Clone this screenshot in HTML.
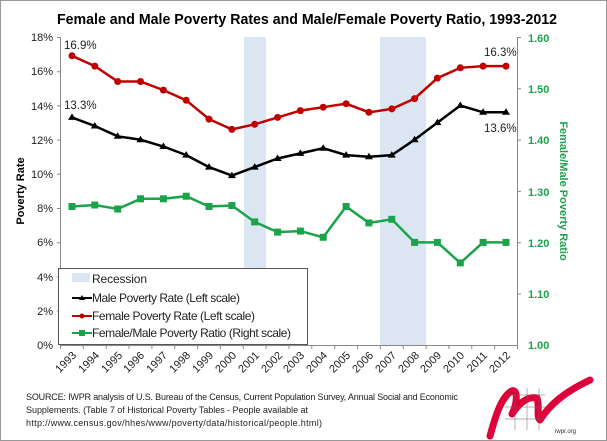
<!DOCTYPE html>
<html><head><style>
html,body{margin:0;padding:0;background:#fff;}
svg{display:block;font-family:"Liberation Sans",sans-serif;}
</style></head><body>
<svg width="607" height="441" viewBox="0 0 607 441" xmlns="http://www.w3.org/2000/svg">
<rect x="0.5" y="0.5" width="606" height="440" fill="#fff" stroke="#999"/>
<text x="307" y="24" text-anchor="middle" font-size="14.5" font-weight="bold" textLength="500" lengthAdjust="spacingAndGlyphs">Female and Male Poverty Rates and Male/Female Poverty Ratio, 1993-2012</text>
<rect x="244" y="37" width="22" height="308" fill="#dce6f2"/>
<rect x="380" y="37" width="46" height="308" fill="#dce6f2"/>
<g stroke="#888" stroke-width="1" fill="none">
<line x1="60.5" y1="37" x2="60.5" y2="345"/>
<line x1="517.5" y1="37" x2="517.5" y2="345"/>
<line x1="60" y1="345.5" x2="518" y2="345.5"/>
<path d="M57 37.5H61M57 71.7H61M57 105.9H61M57 140.1H61M57 174.3H61M57 208.5H61M57 242.7H61M57 276.9H61M57 311.1H61"/>
<path d="M517 37.5H521M517 88.8H521M517 140.1H521M517 191.4H521M517 242.7H521M517 294H521"/>
<path d="M60.5 345V349M83.3 345V349M106.2 345V349M129 345V349M151.9 345V349M174.7 345V349M197.6 345V349M220.4 345V349M243.3 345V349M266.1 345V349M289 345V349M311.8 345V349M334.7 345V349M357.5 345V349M380.4 345V349M403.2 345V349M426.1 345V349M448.9 345V349M471.8 345V349M494.6 345V349M517.5 345V349"/>
</g>
<g font-size="11" fill="#222" text-anchor="end">
<text x="53" y="41">18%</text><text x="53" y="75">16%</text><text x="53" y="110">14%</text><text x="53" y="144">12%</text><text x="53" y="178">10%</text><text x="53" y="212">8%</text><text x="53" y="246">6%</text><text x="53" y="281">4%</text><text x="53" y="315">2%</text><text x="53" y="349">0%</text>
</g>
<g font-size="11" fill="#1aa34a" font-weight="bold">
<text x="528" y="42">1.60</text><text x="528" y="93">1.50</text><text x="528" y="144">1.40</text><text x="528" y="196">1.30</text><text x="528" y="247">1.20</text><text x="528" y="298">1.10</text><text x="528" y="349">1.00</text>
</g>
<text transform="translate(24,191) rotate(-90)" text-anchor="middle" font-size="11" font-weight="bold">Poverty Rate</text>
<text transform="translate(560,191) rotate(90)" text-anchor="middle" font-size="11" font-weight="bold" fill="#1aa34a">Female/Male Poverty Ratio</text>
<g font-size="11" fill="#222" text-anchor="end">
<text transform="translate(77,356) rotate(-45)">1993</text>
<text transform="translate(100,356) rotate(-45)">1994</text>
<text transform="translate(123,356) rotate(-45)">1995</text>
<text transform="translate(145,356) rotate(-45)">1996</text>
<text transform="translate(168,356) rotate(-45)">1997</text>
<text transform="translate(191,356) rotate(-45)">1998</text>
<text transform="translate(214,356) rotate(-45)">1999</text>
<text transform="translate(237,356) rotate(-45)">2000</text>
<text transform="translate(260,356) rotate(-45)">2001</text>
<text transform="translate(283,356) rotate(-45)">2002</text>
<text transform="translate(305,356) rotate(-45)">2003</text>
<text transform="translate(328,356) rotate(-45)">2004</text>
<text transform="translate(351,356) rotate(-45)">2005</text>
<text transform="translate(374,356) rotate(-45)">2006</text>
<text transform="translate(397,356) rotate(-45)">2007</text>
<text transform="translate(420,356) rotate(-45)">2008</text>
<text transform="translate(442,356) rotate(-45)">2009</text>
<text transform="translate(465,356) rotate(-45)">2010</text>
<text transform="translate(488,356) rotate(-45)">2011</text>
<text transform="translate(511,356) rotate(-45)">2012</text>
</g>
<polyline fill="none" stroke="#c00000" stroke-width="2.5" points="72,55.8 94.8,66.1 117.7,81.5 140.5,81.5 163.4,90.1 186.2,100.3 209,119.1 231.9,129.4 254.7,124.3 277.6,117.4 300.4,110.6 323.2,107.2 346.1,103.7 368.9,112.3 391.8,108.9 414.6,98.6 437.4,78.1 460.3,67.8 483.1,66.1 506,66.1"/>
<g fill="#c00000">
<circle cx="72" cy="55.8" r="3.5"/><circle cx="94.8" cy="66.1" r="3.5"/><circle cx="117.7" cy="81.5" r="3.5"/><circle cx="140.5" cy="81.5" r="3.5"/><circle cx="163.4" cy="90.1" r="3.5"/><circle cx="186.2" cy="100.3" r="3.5"/><circle cx="209" cy="119.1" r="3.5"/><circle cx="231.9" cy="129.4" r="3.5"/><circle cx="254.7" cy="124.3" r="3.5"/><circle cx="277.6" cy="117.4" r="3.5"/><circle cx="300.4" cy="110.6" r="3.5"/><circle cx="323.2" cy="107.2" r="3.5"/><circle cx="346.1" cy="103.7" r="3.5"/><circle cx="368.9" cy="112.3" r="3.5"/><circle cx="391.8" cy="108.9" r="3.5"/><circle cx="414.6" cy="98.6" r="3.5"/><circle cx="437.4" cy="78.1" r="3.5"/><circle cx="460.3" cy="67.8" r="3.5"/><circle cx="483.1" cy="66.1" r="3.5"/><circle cx="506" cy="66.1" r="3.5"/>
</g>
<polyline fill="none" stroke="#000" stroke-width="2.5" points="72,117.4 94.8,126 117.7,136.3 140.5,139.7 163.4,146.5 186.2,155.1 209,167.1 231.9,175.6 254.7,167.1 277.6,158.5 300.4,153.4 323.2,148.2 346.1,155.1 368.9,156.8 391.8,155.1 414.6,139.7 437.4,122.6 460.3,105.5 483.1,112.3 506,112.3"/>
<g fill="#000">
<path d="M72 113.4l4 6.5h-8z M94.8 122l4 6.5h-8z M117.7 132.3l4 6.5h-8z M140.5 135.7l4 6.5h-8z M163.4 142.5l4 6.5h-8z M186.2 151.1l4 6.5h-8z M209 163.1l4 6.5h-8z M231.9 171.6l4 6.5h-8z M254.7 163.1l4 6.5h-8z M277.6 154.5l4 6.5h-8z M300.4 149.4l4 6.5h-8z M323.2 144.2l4 6.5h-8z M346.1 151.1l4 6.5h-8z M368.9 152.8l4 6.5h-8z M391.8 151.1l4 6.5h-8z M414.6 135.7l4 6.5h-8z M437.4 118.6l4 6.5h-8z M460.3 101.5l4 6.5h-8z M483.1 108.3l4 6.5h-8z M506 108.3l4 6.5h-8z"/>
</g>
<polyline fill="none" stroke="#1aa34a" stroke-width="2.5" points="72,206.5 94.8,205 117.7,209 140.5,198.8 163.4,198.8 186.2,196.2 209,206.5 231.9,205.5 254.7,221.9 277.6,232.1 300.4,231.1 323.2,237.3 346.1,206.5 368.9,222.9 391.8,219.3 414.6,242.4 437.4,242.4 460.3,262.9 483.1,242.4 506,242.4"/>
<g fill="#1aa34a">
<rect x="68.5" y="203" width="7" height="7"/><rect x="91.3" y="201.5" width="7" height="7"/><rect x="114.2" y="205.5" width="7" height="7"/><rect x="137" y="195.3" width="7" height="7"/><rect x="159.9" y="195.3" width="7" height="7"/><rect x="182.7" y="192.7" width="7" height="7"/><rect x="205.5" y="203" width="7" height="7"/><rect x="228.4" y="202" width="7" height="7"/><rect x="251.2" y="218.4" width="7" height="7"/><rect x="274.1" y="228.6" width="7" height="7"/><rect x="296.9" y="227.6" width="7" height="7"/><rect x="319.7" y="233.8" width="7" height="7"/><rect x="342.6" y="203" width="7" height="7"/><rect x="365.4" y="219.4" width="7" height="7"/><rect x="388.3" y="215.8" width="7" height="7"/><rect x="411.1" y="238.9" width="7" height="7"/><rect x="433.9" y="238.9" width="7" height="7"/><rect x="456.8" y="259.4" width="7" height="7"/><rect x="479.6" y="238.9" width="7" height="7"/><rect x="502.5" y="238.9" width="7" height="7"/>
</g>
<g font-size="11.5" fill="#222">
<text x="64" y="49">16.9%</text>
<text x="64" y="109">13.3%</text>
<text x="484" y="56">16.3%</text>
<text x="484" y="132">13.6%</text>
</g>
<rect x="58.5" y="268.5" width="249" height="76" fill="#fff" stroke="#555"/>
<rect x="72" y="273" width="18" height="9" fill="#dce6f2"/>
<g font-size="12" fill="#222" lengthAdjust="spacingAndGlyphs">
<text x="92" y="283" textLength="55">Recession</text>
<text x="92" y="302" textLength="148">Male Poverty Rate (Left scale)</text>
<text x="92" y="320" textLength="163">Female Poverty Rate  (Left scale)</text>
<text x="92" y="337" textLength="199">Female/Male Poverty Ratio (Right scale)</text>
</g>
<line x1="72" y1="298" x2="92" y2="298" stroke="#000" stroke-width="2"/><path d="M82 295l3 5h-6z"/>
<line x1="72" y1="316" x2="92" y2="316" stroke="#c00000" stroke-width="2"/><circle cx="82" cy="316" r="2.5" fill="#c00000"/>
<line x1="72" y1="333" x2="92" y2="333" stroke="#1aa34a" stroke-width="2"/><rect x="79" y="330" width="6" height="6" fill="#1aa34a"/>
<g font-size="9" fill="#222" lengthAdjust="spacingAndGlyphs">
<text x="26" y="400" textLength="432">SOURCE: IWPR analysis of U.S. Bureau of the Census, Current Population Survey, Annual Social and Economic</text>
<text x="26" y="413" textLength="282">Supplements. (Table 7 of Historical Poverty Tables - People available at</text>
<text x="26" y="426" textLength="296">http://www.census.gov/hhes/www/poverty/data/historical/people.html)</text>
</g>
<g fill="none" stroke="#e0003a" stroke-linecap="round" stroke-linejoin="round">
<path d="M490 436 C495 418,500 400,510 392 C518 386,518 402,512 414 C520 402,528 396,537 398 C540 408,536 416,540 420 C550 404,565 392,590 380" stroke-width="7"/>
<path d="M505 395 L545 395 M505 407 L545 407 M505 419 L545 419 M515 388 L515 430 M527 388 L527 430 M539 388 L539 430" stroke="#666" stroke-width="0.5"/>
</g>
<text x="555" y="433" font-size="6" fill="#333">iwpr.org</text>
</svg>
</body></html>
